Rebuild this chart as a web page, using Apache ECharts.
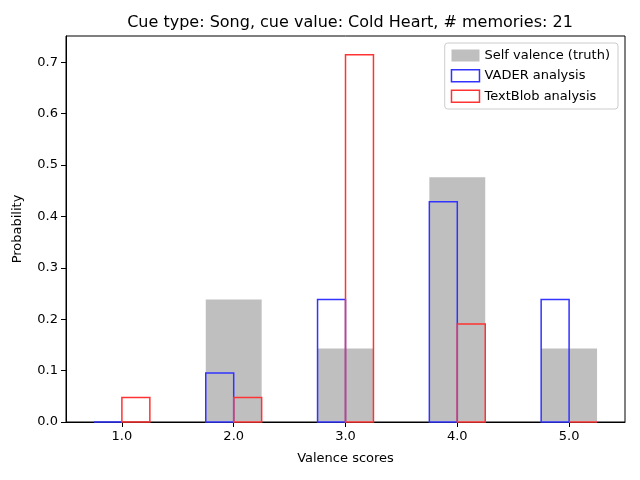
<!DOCTYPE html>
<html>
<head>
<meta charset="UTF-8">
<script src="https://cdn.jsdelivr.net/npm/echarts@6/dist/echarts.min.js"></script>
</head>
<body style="margin:0">
<div id="main" style="width:640px;height:480px;"></div>
<script>
var scores = [1, 2, 3, 4, 5];
var selfValence = [0, 0.2381, 0.1429, 0.4762, 0.1429];
var vader = [0, 0.0952, 0.2381, 0.4286, 0.2381];
var textblob = [0.0476, 0.0476, 0.7143, 0.1905, 0];
var yTicks = [0, 0.1, 0.2, 0.3, 0.4, 0.5, 0.6, 0.7];

function makeRender(off0, off1, fill, stroke) {
    return function (params, api) {
        var x = api.value(0), v = api.value(1);
        var p0 = api.coord([x + off0, v]);
        var p1 = api.coord([x + off1, 0]);
        return {
            type: 'rect',
            shape: { x: p0[0], y: p0[1], width: p1[0] - p0[0], height: p1[1] - p0[1] },
            style: { fill: fill, stroke: stroke, lineWidth: stroke ? 1.5 : 0 }
        };
    };
}
function pairs(vals) {
    return scores.map(function (s, i) { return [s, vals[i]]; });
}

var myChart = echarts.init(document.getElementById('main'));
var font = 'DejaVu Sans';
myChart.setOption({
    animation: false,
    textStyle: { fontFamily: font },
    title: {
        text: 'Cue type: Song, cue value: Cold Heart, # memories: 21',
        left: 345, top: 10, textAlign: 'center',
        textStyle: { fontSize: 16, fontWeight: 'normal', color: '#000', fontFamily: font }
    },
    legend: {
        orient: 'vertical', right: 22, top: 43,
        backgroundColor: '#fff', borderColor: '#ccc', borderWidth: 1, borderRadius: 3,
        padding: [6, 8, 6, 6], itemGap: 7, itemWidth: 28, itemHeight: 12,
        textStyle: { fontSize: 13, color: '#000', fontFamily: font },
        data: [
            { name: 'Self valence (truth)', icon: 'rect', itemStyle: { color: '#bfbfbf', borderWidth: 0 } },
            { name: 'VADER analysis', icon: 'rect', itemStyle: { color: 'transparent', borderColor: '#3333ff', borderWidth: 1.5 } },
            { name: 'TextBlob analysis', icon: 'rect', itemStyle: { color: 'transparent', borderColor: '#ff3333', borderWidth: 1.5 } }
        ]
    },
    grid: { left: 66, right: 15, top: 36, bottom: 58, show: true, borderColor: '#000', borderWidth: 1 },
    xAxis: {
        type: 'value', min: 0.5, max: 5.5,
        name: 'Valence scores', nameLocation: 'middle', nameGap: 30,
        nameTextStyle: { fontSize: 13, color: '#000' },
        splitLine: { show: false },
        axisLine: { lineStyle: { color: '#000' } },
        axisTick: { show: true, customValues: scores, lineStyle: { color: '#000' } },
        axisLabel: { customValues: scores, color: '#000', fontSize: 13,
            formatter: function (v) { return v.toFixed(1); } }
    },
    yAxis: {
        type: 'value', min: 0, max: 0.751,
        name: 'Probability', nameLocation: 'middle', nameGap: 42,
        nameTextStyle: { fontSize: 13, color: '#000' },
        splitLine: { show: false },
        axisLine: { show: true, lineStyle: { color: '#000' } },
        axisTick: { show: true, customValues: yTicks, lineStyle: { color: '#000' } },
        axisLabel: { customValues: yTicks, color: '#000', fontSize: 13,
            formatter: function (v) { return v.toFixed(1); } }
    },
    series: [
        { name: 'Self valence (truth)', type: 'custom', data: pairs(selfValence),
          itemStyle: { color: '#bfbfbf' },
          renderItem: makeRender(-0.25, 0.25, '#bfbfbf', null) },
        { name: 'VADER analysis', type: 'custom', data: pairs(vader),
          itemStyle: { color: '#3333ff' },
          renderItem: makeRender(-0.25, 0, 'none', '#3333ff') },
        { name: 'TextBlob analysis', type: 'custom', data: pairs(textblob),
          itemStyle: { color: '#ff3333' },
          renderItem: makeRender(0, 0.25, 'none', '#ff3333') }
    ]
});
</script>
</body>
</html>
